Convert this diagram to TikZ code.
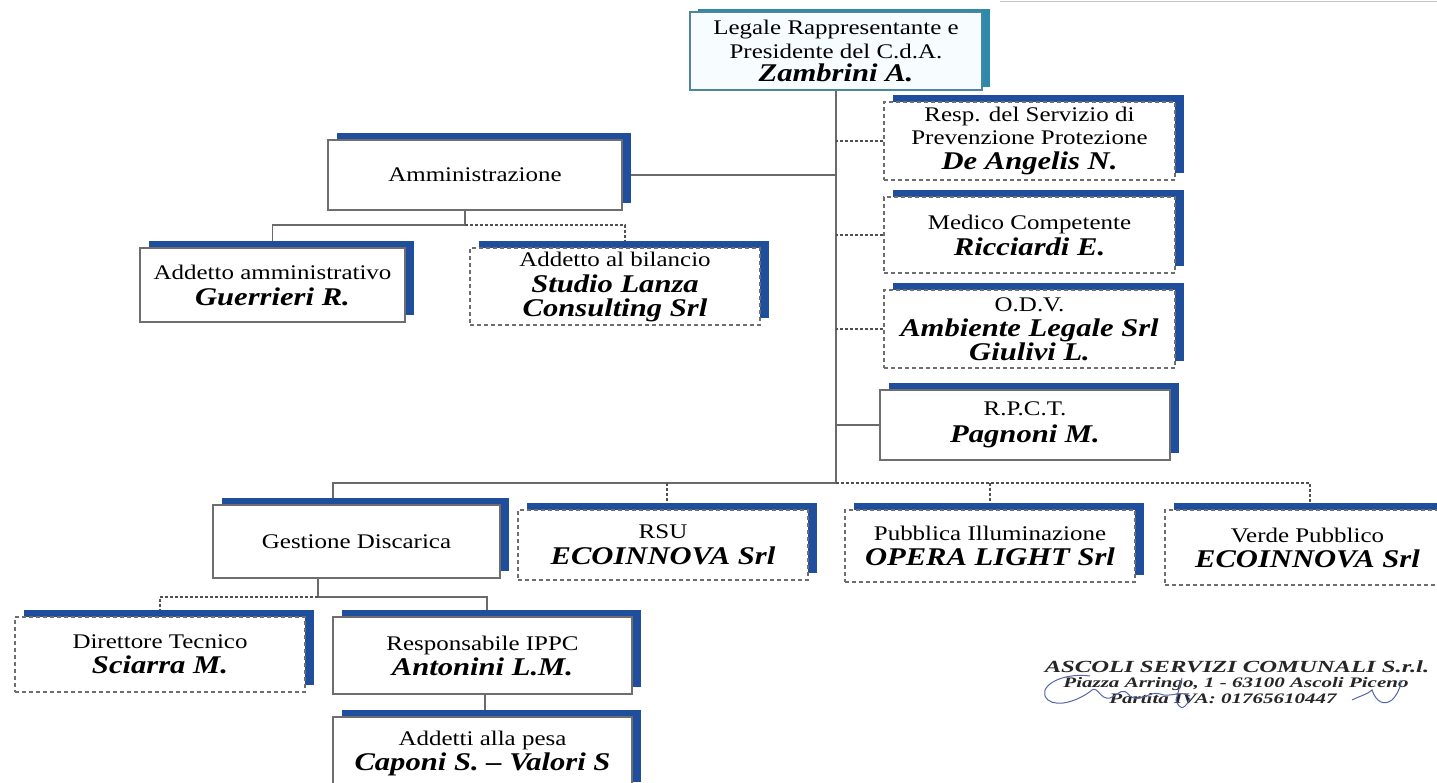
\documentclass[tikz,border=0pt]{standalone}
\usepackage{fontspec}
\setmainfont[FakeStretch=1.2]{Liberation Serif}
\newfontfamily\stampfont[FakeStretch=1.45]{Liberation Serif}
\usetikzlibrary{shadows,backgrounds,calc}
\definecolor{sblue}{HTML}{1F4F9C}
\definecolor{steal}{HTML}{2C8BAA}
\definecolor{bord}{HTML}{6E6E6E}
\definecolor{conncol}{HTML}{6A6A6A}
\definecolor{dotcol}{HTML}{505050}
\definecolor{sigblue}{HTML}{5566AA}
\newcommand{\nm}[1]{{\fontsize{25.5}{27}\selectfont\bfseries\itshape #1}}
\tikzset{
  box/.style={rectangle, draw=bord, line width=1.1pt, fill=white, align=center,
    inner sep=0pt, font=\fontsize{20.8}{25}\selectfont,
    general shadow={fill=sblue, shadow xshift=9pt, shadow yshift=7pt}},
  dbox/.style={box, dash pattern=on 4pt off 3pt},
  topbox/.style={rectangle, draw=steal!60!gray, line width=1.1pt, fill=cyan!3, align=center,
    inner sep=0pt, font=\fontsize{20.8}{23.5}\selectfont,
    general shadow={fill=steal, shadow xshift=8pt, shadow yshift=3pt}},
  conn/.style={draw=conncol, line width=1.9pt},
  dotc/.style={draw=dotcol, line width=2.2pt, dash pattern=on 3pt off 2pt},
  stampa/.style={inner sep=0pt, text=black!85, font=\stampfont\fontsize{17}{18}\selectfont\bfseries\itshape},
  stampb/.style={inner sep=0pt, text=black!85, font=\stampfont\fontsize{14.5}{15}\selectfont\bfseries\itshape},
  sig/.style={draw=sigblue, line width=1pt}
}
\begin{document}
\begin{tikzpicture}[x=1pt,y=-1pt]
\useasboundingbox (0,0) rectangle (1437,783);
\clip (0,0) rectangle (1437,783);

% top
\node[topbox, minimum width=292, minimum height=78] (top) at (836,51)
  {Legale Rappresentante e\\Presidente del C.d.A.\\\nm{Zambrini A.}};

% administration
\node[box, minimum width=294, minimum height=70] (amm) at (475,175) {Amministrazione};
\node[box, minimum width=265, minimum height=74] (aa) at (272.5,285)
  {Addetto amministrativo\\[1pt]\nm{Guerrieri R.}};
\node[dbox, minimum width=290, minimum height=77] (bil) at (615,286.5)
  {Addetto al bilancio\\[1pt]\nm{Studio Lanza}\\[-1pt]\nm{Consulting Srl}};

% staff right
\node[dbox, minimum width=291, minimum height=78] (rspp) at (1029.5,141)
  {Resp. del Servizio di\\[-2pt]Prevenzione Protezione\\\nm{De Angelis N.}};
\node[dbox, minimum width=291, minimum height=76] (med) at (1029.5,235)
  {Medico Competente\\[1pt]\nm{Ricciardi E.}};
\node[dbox, minimum width=291, minimum height=78] (odv) at (1029.5,329)
  {O.D.V.\\\nm{Ambiente Legale Srl}\\[-1pt]\nm{Giulivi L.}};
\node[box, minimum width=290, minimum height=70] (rpct) at (1025,425)
  {R.P.C.T.\\[2pt]\nm{Pagnoni M.}};

% bottom row
\node[box, minimum width=287, minimum height=73] (gd) at (356.5,541.5) {Gestione Discarica};
\node[dbox, minimum width=290, minimum height=70] (rsu) at (663,545)
  {RSU\\[1pt]\nm{ECOINNOVA Srl}};
\node[dbox, minimum width=290, minimum height=72] (pi) at (990,546)
  {Pubblica Illuminazione\\\nm{OPERA LIGHT Srl}};
\node[dbox, minimum width=285, minimum height=75] (vp) at (1307.5,547.5)
  {Verde Pubblico\\\nm{ECOINNOVA Srl}};

% discarica children
\node[dbox, minimum width=290, minimum height=75] (dt) at (160,654.5)
  {Direttore Tecnico\\\nm{Sciarra M.}};
\node[box, minimum width=299, minimum height=77] (ippc) at (482.5,655.5)
  {Responsabile IPPC\\\nm{Antonini L.M.}};
\node[box, minimum width=299, minimum height=72] (pesa) at (482.5,753)
  {Addetti alla pesa\\\nm{Caponi S. -- Valori S}};

% stamp
\node[stampa] (st1) at (1237,667) {ASCOLI SERVIZI COMUNALI S.r.l.};
\node[stampb] (st2) at (1236,684) {Piazza Arringo, 1 - 63100 Ascoli Piceno};
\node[stampb] (st3) at (1223,699) {Partita IVA: 01765610447};
\draw[sig] (1090,676) .. controls (1060,672) and (1035,688) .. (1048,700)
  .. controls (1058,708) and (1080,700) .. (1092,690)
  .. controls (1098,686) and (1100,700) .. (1110,698)
  .. controls (1120,694) and (1122,686) .. (1130,696)
  .. controls (1140,704) and (1150,690) .. (1160,694)
  .. controls (1170,698) and (1180,690) .. (1190,696);
\draw[sig] (1182,678) -- (1176,700) .. controls (1180,712) and (1186,708) .. (1190,698);
\draw[sig] (1352,700) .. controls (1360,696) and (1368,694) .. (1372,690)
  .. controls (1376,702) and (1384,706) .. (1392,700)
  .. controls (1398,694) and (1402,684) .. (1400,680);

% connectors
\begin{scope}[on background layer]
\fill[white] (0,0) rectangle (1437,783);
\draw[gray!45, line width=1.5pt] (1000,1.5) -- (1437,1.5);
\coordinate (bus) at (836,483);
\coordinate (ambus) at (465,225);
\coordinate (gdbus) at (318,597);
\draw[conn] (top.south) -- (bus);
\draw[conn] (amm.east) -- (amm.east -| bus);
\draw[dotc] (rspp.west) -- (rspp.west -| bus);
\draw[dotc] (med.west) -- (med.west -| bus);
\draw[dotc] (odv.west) -- (odv.west -| bus);
\draw[conn] (rpct.west) -- (rpct.west -| bus);
\draw[conn] (bus) -| ([xshift=-23.5pt]gd.north);
\draw[dotc] (bus) -| ([xshift=2.5pt]vp.north);
\draw[dotc] ([xshift=4pt]rsu.north |- bus) -- ([xshift=4pt]rsu.north);
\draw[dotc] (pi.north |- bus) -- (pi.north);
\draw[conn] (amm.south -| ambus) -- (ambus) -| (aa.north);
\draw[dotc] (ambus) -| ([xshift=10pt]bil.north);
\draw[conn] (gd.south -| gdbus) -- (gdbus) -| ([xshift=4.5pt]ippc.north);
\draw[dotc] (gdbus) -| (dt.north);
\draw[conn] ([xshift=2.5pt]ippc.south) -- ([xshift=2.5pt]pesa.north);
\end{scope}
\end{tikzpicture}
\end{document}
